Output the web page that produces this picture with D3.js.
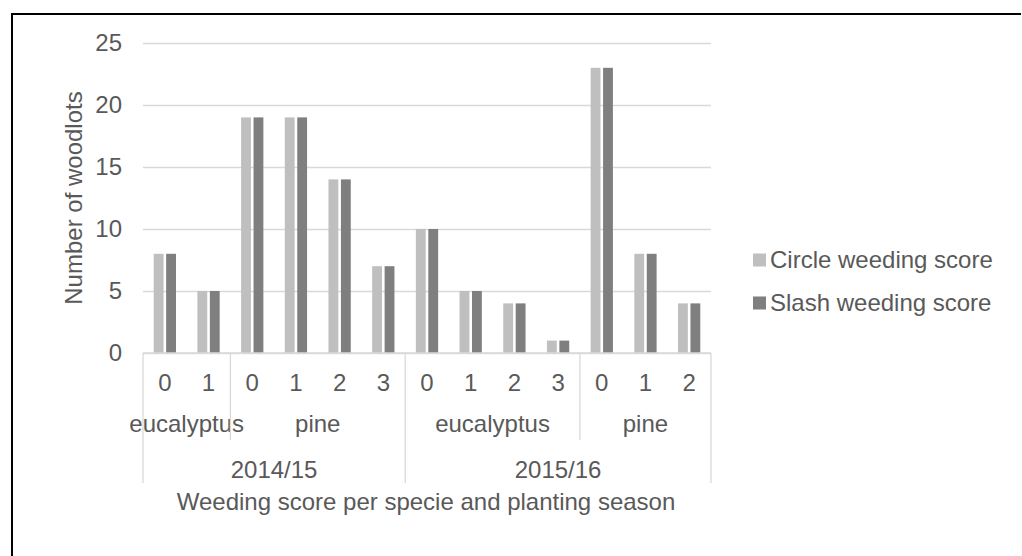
<!DOCTYPE html>
<html>
<head>
<meta charset="utf-8">
<script src="https://cdn.jsdelivr.net/npm/d3@7"></script>
<style>
  html, body { margin: 0; padding: 0; background: #fff; }
  svg { display: block; }
  text { font-family: "Liberation Sans", Arial, sans-serif; fill: #595959; }
</style>
</head>
<body>
<svg id="chart" width="1022" height="556"></svg>
<script>
// Weeding scores (0–3) for each species within each planting season
const seasons = ["2014/15", "2015/16"];
const species = [
  { season: "2014/15", name: "eucalyptus", scores: ["0", "1"] },
  { season: "2014/15", name: "pine",       scores: ["0", "1", "2", "3"] },
  { season: "2015/16", name: "eucalyptus", scores: ["0", "1", "2", "3"] },
  { season: "2015/16", name: "pine",       scores: ["0", "1", "2"] }
];
const seriesNames = ["Circle weeding score", "Slash weeding score"];
const circleValues = [8, 5, 19, 19, 14, 7, 10, 5, 4, 1, 23, 8, 4];
const slashValues  = [8, 5, 19, 19, 14, 7, 10, 5, 4, 1, 23, 8, 4];
const yTicks = [0, 5, 10, 15, 20, 25];
const colors = ["#bfbfbf", "#7f7f7f"];

// flatten categories
const cats = [];
species.forEach((sp, si) => sp.scores.forEach(s => cats.push({ id: cats.length, season: sp.season, sp: si, score: s })));
const rows = cats.map((c, i) => ({ ...c, values: [circleValues[i], slashValues[i]] }));

const svg = d3.select("#chart");
const fs = 24;

const plotL = 143, plotR = 711, plotT = 43, plotB = 353;

const x0 = d3.scaleBand().domain(cats.map(c => c.id)).range([plotL, plotR]).padding(0);
const x1 = d3.scaleBand().domain([0, 1]).range([0, x0.bandwidth()]).paddingInner(0.21).paddingOuter(0.86);
const y = d3.scaleLinear().domain([0, 25]).range([plotB, plotT]);

// gridlines
svg.append("g")
  .attr("transform", `translate(${plotL},0)`)
  .call(d3.axisLeft(y).tickValues(yTicks).tickSize(-(plotR - plotL)).tickFormat(""))
  .call(g => g.select(".domain").remove())
  .call(g => g.selectAll(".tick line").attr("stroke", "#d9d9d9").attr("stroke-width", 1.3));

// y tick labels
svg.append("g")
  .attr("transform", `translate(${plotL},0)`)
  .call(d3.axisLeft(y).tickValues(yTicks).tickSize(0).tickPadding(21))
  .call(g => g.select(".domain").remove())
  .call(g => g.selectAll("text").attr("font-size", fs).attr("fill", "#595959"));
svg.selectAll("g").attr("font-family", null).attr("font-size", null);

// bars
const grp = svg.append("g").selectAll("g").data(rows).join("g")
  .attr("transform", d => `translate(${x0(d.id)},0)`);
grp.selectAll("rect").data(d => d.values.map((v, k) => ({ v, k }))).join("rect")
  .attr("x", d => x1(d.k))
  .attr("width", x1.bandwidth())
  .attr("y", d => y(d.v))
  .attr("height", d => y(0) - y(d.v))
  .attr("fill", d => colors[d.k]);

// category axis line
svg.append("line").attr("x1", plotL).attr("x2", plotR).attr("y1", plotB).attr("y2", plotB)
  .attr("stroke", "#d9d9d9").attr("stroke-width", 1.3);

// multi-level category labels
const scoreY = 391, speciesY = 432, seasonY = 478;
svg.append("g").selectAll("text").data(cats).join("text")
  .attr("x", d => x0(d.id) + x0.bandwidth() / 2)
  .attr("y", scoreY)
  .attr("text-anchor", "middle")
  .attr("font-size", fs)
  .text(d => d.score);

// species spans
const spSpans = species.map((sp, si) => {
  const ids = cats.filter(c => c.sp === si).map(c => c.id);
  return { name: sp.name, x0: x0(ids[0]), x1: x0(ids[ids.length - 1]) + x0.bandwidth() };
});
svg.append("g").selectAll("text").data(spSpans).join("text")
  .attr("x", d => (d.x0 + d.x1) / 2)
  .attr("y", speciesY)
  .attr("text-anchor", "middle")
  .attr("font-size", fs)
  .text(d => d.name);

// season spans
const seSpans = seasons.map(s => {
  const ids = cats.filter(c => c.season === s).map(c => c.id);
  return { name: s, x0: x0(ids[0]), x1: x0(ids[ids.length - 1]) + x0.bandwidth() };
});
svg.append("g").selectAll("text").data(seSpans).join("text")
  .attr("x", d => (d.x0 + d.x1) / 2)
  .attr("y", seasonY)
  .attr("text-anchor", "middle")
  .attr("font-size", fs)
  .text(d => d.name);

// separators: species boundaries (short) and season boundaries (full depth)
const sepColor = "#d9d9d9";
const seasonEdges = new Set();
seSpans.forEach(s => { seasonEdges.add(Math.round(s.x0 * 10)); seasonEdges.add(Math.round(s.x1 * 10)); });
const speciesEdges = [];
spSpans.forEach(s => { speciesEdges.push(s.x0, s.x1); });
const allEdges = Array.from(new Set(speciesEdges.map(v => Math.round(v * 10)))).map(v => v / 10);
svg.append("g").selectAll("line").data(allEdges).join("line")
  .attr("x1", d => d).attr("x2", d => d)
  .attr("y1", plotB)
  .attr("y2", d => seasonEdges.has(Math.round(d * 10)) ? 483 : 440)
  .attr("stroke", sepColor).attr("stroke-width", 1.3);

// axis titles
svg.append("text")
  .attr("x", (plotL + plotR) / 2 - 1)
  .attr("y", 510)
  .attr("text-anchor", "middle")
  .attr("font-size", fs)
  .text("Weeding score per specie and planting season");

svg.append("text")
  .attr("transform", `translate(82,198) rotate(-90)`)
  .attr("text-anchor", "middle")
  .attr("font-size", fs)
  .text("Number of woodlots");

// legend
const legend = svg.append("g").selectAll("g").data(seriesNames).join("g")
  .attr("transform", (d, i) => `translate(753,${260 + i * 43})`);
legend.append("rect").attr("x", 0).attr("y", -6.5).attr("width", 13).attr("height", 13)
  .attr("fill", (d, i) => colors[i]);
legend.append("text").attr("x", 17).attr("y", 8).attr("font-size", fs).text(d => d);

// frame
svg.append("path")
  .attr("d", "M12,556 L12,14 L1021,14")
  .attr("fill", "none").attr("stroke", "#000").attr("stroke-width", 2);
</script>
</body>
</html>
